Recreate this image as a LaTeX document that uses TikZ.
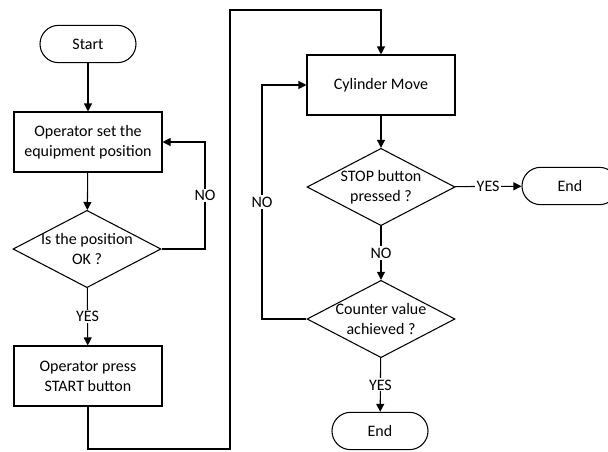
\documentclass[tikz,border=0pt]{standalone}
\usepackage{fontspec}
\setmainfont{Carlito}
\usetikzlibrary{shapes.geometric,arrows.meta}

\tikzset{
  process/.style={draw, thick, rectangle, minimum width=111pt, minimum height=45pt,
    align=center, font=\fontsize{12}{15}\selectfont},
  decision/.style={draw, thick, diamond, minimum width=111pt, minimum height=58pt,
    inner sep=0pt},
  dtext/.style={align=center, font=\fontsize{12}{15}\selectfont},
  terminal/.style={draw, thick, rectangle, rounded corners=14pt, minimum width=72pt,
    minimum height=28pt, font=\fontsize{12}{15}\selectfont},
  flow/.style={thick, -{Triangle[length=6pt,width=6pt]}},
  lbl/.style={fill=white, inner sep=1pt, font=\fontsize{12}{15}\selectfont}
}

\begin{document}
\begin{tikzpicture}[x=0.75pt, y=-0.75pt]
  \useasboundingbox (0,0) rectangle (608,451);

  % left column
  \node[terminal] (start) at (88,44) {Start};
  \node[process] (setpos) at (88,142) {Operator set the\\equipment position};
  \node[decision, label={[dtext]center:Is the position\\OK ?}] (posok) at (87,249) {};
  \node[process] (press) at (88,376) {Operator press\\START button};

  % right column
  \node[process] (move) at (381,85) {Cylinder Move};
  \node[decision, label={[dtext]center:STOP button\\pressed ?}] (stop) at (381,187) {};
  \node[decision, label={[dtext]center:Counter value\\achieved ?}] (count) at (381,319) {};
  \node[terminal] (endA) at (570,186) {End};
  \node[terminal] (endB) at (380,431) {End};

  % bend points
  \coordinate (noA) at (205,249);
  \coordinate (lowL) at (88,449);
  \coordinate (lowR) at (230,449);
  \coordinate (topL) at (230,10);
  \coordinate (noB) at (262,319);

  % connectors
  \draw[flow] (start) -- (setpos);
  \draw[flow] (setpos) -- (posok);
  \draw[flow] (posok.east) -- (noA) |- node[lbl, pos=0.25] {NO} (setpos.east);
  \draw[flow] (posok) -- node[lbl] {YES} (press);
  \draw[flow] (press.south) -- (lowL) -- (lowR) -- (topL) -| (move.north);
  \draw[flow] (move) -- (stop);
  \draw[flow] (stop) -- node[lbl] {YES} (endA);
  \draw[flow] (stop) -- node[lbl] {NO} (count);
  \draw[flow] (count.west) -- (noB) |- node[lbl, pos=0.25] {NO} (move.west);
  \draw[flow] (count) -- node[lbl] {YES} (endB);
\end{tikzpicture}
\end{document}
